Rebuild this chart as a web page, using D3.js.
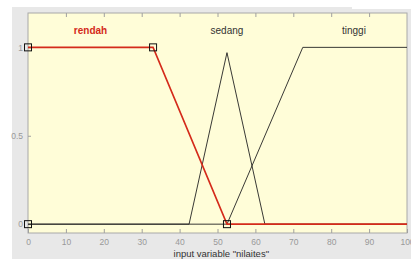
<!doctype html>
<html lang="en">
<head>
  <script src="https://d3js.org/d3.v7.min.js"></script>
  <style>
    body { margin: 0px; background: #ffffff; }
    text { font-family: "Liberation Sans", Arial, sans-serif; }
  </style>
</head>
<body>
<div id="container"></div>
<script>
    // membership functions of input "nilaites"
    var rendah = [[0, 1], [33, 1], [52.5, 0], [100, 0]];
    var rendahKnots = [[0, 0], [0, 1], [33, 1], [52.5, 0]];
    var sedang = [[0, 0], [42.5, 0], [52.5, 0.97], [62.5, 0], [100, 0]];
    var tinggi = [[0, 0], [52.5, 0], [72.5, 1], [100, 1]];
    var mfNames = ["rendah", "sedang", "tinggi"];
    var mfLabelX = [16.5, 52.5, 86];
    var xTicks = [0, 10, 20, 30, 40, 50, 60, 70, 80, 90, 100];
    var yTicks = [0, 0.5, 1];

    var svg = d3.select('#container').append('svg')
        .attr('width', 411)
        .attr('height', 259);

    // figure background
    svg.append('rect')
        .attr('x', 12).attr('y', 7)
        .attr('width', 399).attr('height', 252)
        .attr('fill', '#e8e8e8');
    svg.append('rect')
        .attr('x', 352).attr('y', 0)
        .attr('width', 59).attr('height', 9)
        .attr('fill', '#ffffff');

    var x = d3.scaleLinear().domain([0, 100]).range([28, 407]);
    var y = d3.scaleLinear().domain([-0.05, 1.2]).range([233, 12]);

    svg.append('rect')
        .attr('x', 28).attr('y', 13)
        .attr('width', 379).attr('height', 220)
        .attr('fill', '#fffdd8')
        .attr('stroke', '#a8a8a8')
        .attr('stroke-width', 1);

    // ticks
    svg.append('g')
        .attr('transform', 'translate(0,233)')
        .call(d3.axisBottom(x).tickValues(xTicks).tickSize(-4).tickPadding(6).tickFormat(d3.format('d')))
        .call(function (g) {
            g.select('.domain').remove();
            g.selectAll('line').attr('stroke', '#a0a0a0');
            g.selectAll('text').attr('fill', '#999').style('font-size', '8.5px');
        });
    svg.append('g')
        .attr('transform', 'translate(0,13)')
        .call(d3.axisTop(x).tickValues(xTicks.slice(1, -1)).tickSize(-4).tickFormat(''))
        .call(function (g) {
            g.select('.domain').remove();
            g.selectAll('line').attr('stroke', '#a0a0a0');
        });
    svg.append('g')
        .attr('transform', 'translate(28,0)')
        .call(d3.axisLeft(y).tickValues(yTicks).tickSize(-3).tickPadding(5).tickFormat(function (d) { return d; }))
        .call(function (g) {
            g.select('.domain').remove();
            g.selectAll('line').attr('stroke', '#a0a0a0');
            g.selectAll('text').attr('fill', '#999').style('font-size', '8.5px');
        });

    var line = d3.line()
        .x(function (d) { return x(d[0]); })
        .y(function (d) { return y(d[1]); });

    svg.append('path').datum(sedang)
        .attr('d', line).attr('fill', 'none')
        .attr('stroke', '#222').attr('stroke-width', 0.9);
    svg.append('path').datum(tinggi)
        .attr('d', line).attr('fill', 'none')
        .attr('stroke', '#222').attr('stroke-width', 0.9);
    svg.append('path').datum(rendah)
        .attr('d', line).attr('fill', 'none')
        .attr('stroke', '#d42a1a').attr('stroke-width', 1.6);

    svg.selectAll('rect.knot')
        .data(rendahKnots)
        .enter()
        .append('rect')
        .attr('class', 'knot')
        .attr('x', function (d) { return x(d[0]) - 3.5; })
        .attr('y', function (d) { return y(d[1]) - 3.5; })
        .attr('width', 7).attr('height', 7)
        .attr('fill', 'none')
        .attr('stroke', '#111').attr('stroke-width', 1);

    svg.selectAll('text.mf')
        .data(mfNames)
        .enter()
        .append('text')
        .attr('class', 'mf')
        .attr('x', function (d, i) { return x(mfLabelX[i]); })
        .attr('y', 34)
        .attr('text-anchor', 'middle')
        .style('font-size', '10px')
        .style('font-weight', function (d, i) { return i === 0 ? 'bold' : 'normal'; })
        .attr('fill', function (d, i) { return i === 0 ? '#d42a1a' : '#333'; })
        .text(function (d) { return d; });

    svg.append('text')
        .attr('x', x(51)).attr('y', 257)
        .attr('text-anchor', 'middle')
        .style('font-size', '9.5px')
        .attr('fill', '#333')
        .text('input variable "nilaites"');
</script>
</body>
</html>
